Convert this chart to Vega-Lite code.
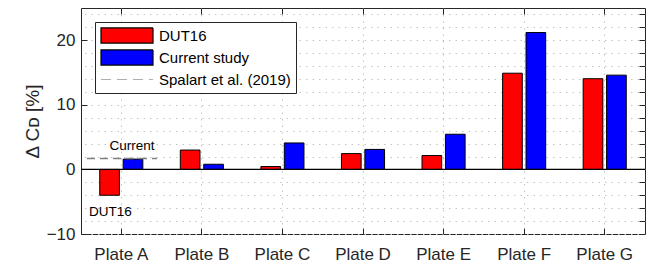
{
  "$schema": "https://vega.github.io/schema/vega-lite/v6.json",
  "width": 564,
  "height": 226,
  "autosize": {"type": "none"},
  "padding": {"left": 81, "top": 8, "right": 9, "bottom": 31},
  "config": {
    "font": "Liberation Sans",
    "view": {"stroke": "#262626", "strokeWidth": 1},
    "axis": {"domain": false, "labelFont": "Liberation Sans", "titleFont": "Liberation Sans", "labelColor": "#262626", "titleColor": "#262626", "tickColor": "#262626", "gridColor": "#c4c4c4", "gridDash": [1.5, 5], "gridWidth": 1}
  },
  "layer": [
    {
      "data": {"values": [
        {"plate": "Plate A", "series": "DUT16", "value": -4.0},
        {"plate": "Plate A", "series": "Current study", "value": 1.6},
        {"plate": "Plate B", "series": "DUT16", "value": 3.0},
        {"plate": "Plate B", "series": "Current study", "value": 0.8},
        {"plate": "Plate C", "series": "DUT16", "value": 0.45},
        {"plate": "Plate C", "series": "Current study", "value": 4.1},
        {"plate": "Plate D", "series": "DUT16", "value": 2.45},
        {"plate": "Plate D", "series": "Current study", "value": 3.1},
        {"plate": "Plate E", "series": "DUT16", "value": 2.15},
        {"plate": "Plate E", "series": "Current study", "value": 5.45},
        {"plate": "Plate F", "series": "DUT16", "value": 14.9},
        {"plate": "Plate F", "series": "Current study", "value": 21.2},
        {"plate": "Plate G", "series": "DUT16", "value": 14.05},
        {"plate": "Plate G", "series": "Current study", "value": 14.6}
      ]},
      "mark": {"type": "bar"},
      "encoding": {
        "x": {"field": "plate", "type": "nominal", "scale": {"paddingInner": 0, "paddingOuter": 0},
              "axis": {"orient": "bottom", "title": null, "labelAngle": 0, "labelFontSize": 17, "tickSize": -6, "labelPadding": 18, "grid": true}},
        "xOffset": {"field": "series", "type": "nominal", "sort": ["DUT16", "Current study"], "scale": {"paddingInner": 0.16, "paddingOuter": 0.8}},
        "y": {"field": "value", "type": "quantitative", "scale": {"domain": [-10, 25], "nice": false, "zero": false},
              "axis": {"orient": "left", "values": [-10, 0, 10, 20], "title": "Δ Cᴅ [%]", "titleFontSize": 19, "titleFontWeight": "normal", "titlePadding": 4, "labelFontSize": 17, "tickSize": -6, "labelPadding": 12, "grid": false}},
        "color": {"field": "series", "type": "nominal",
                  "scale": {"domain": ["DUT16", "Current study", "Spalart et al. (2019)"], "range": ["#ff0000", "#0000ff", "#b0b0b0"]}},
        "stroke": {"field": "series", "type": "nominal",
                   "scale": {"domain": ["DUT16", "Current study", "Spalart et al. (2019)"], "range": ["#000000", "#000000", "#b0b0b0"]}}
      }
    },
    {
      "data": {"values": []},
      "mark": {"type": "point", "filled": true, "opacity": 1},
      "encoding": {
        "color": {"field": "series", "type": "nominal",
                  "scale": {"domain": ["DUT16", "Current study", "Spalart et al. (2019)"], "range": ["#ff0000", "#0000ff", "#b0b0b0"]},
                  "legend": {"orient": "top-left", "offset": 14, "title": null, "fillColor": "white", "strokeColor": "#262626", "padding": 5,
                             "symbolSize": 2704, "symbolOffset": 0, "labelOffset": 5, "rowPadding": 5, "clipHeight": 17, "symbolOpacity": 1,
                             "labelFontSize": 15, "labelFont": "Liberation Sans", "labelColor": "#000000", "symbolStrokeWidth": 1.2}},
        "stroke": {"field": "series", "type": "nominal",
                   "scale": {"domain": ["DUT16", "Current study", "Spalart et al. (2019)"], "range": ["#000000", "#000000", "#b0b0b0"]}},
        "shape": {"field": "series", "type": "nominal",
                  "scale": {"domain": ["DUT16", "Current study", "Spalart et al. (2019)"], "range": ["M-1,-0.29H1V0.29H-1Z", "M-1,-0.29H1V0.29H-1Z", "M-1,0H1"]}},
        "strokeDash": {"field": "series", "type": "nominal",
                       "scale": {"domain": ["DUT16", "Current study", "Spalart et al. (2019)"], "range": [[1, 0], [1, 0], [10, 6]]}}
      }
    },
    {
      "data": {"values": [{"plate": "Plate A", "series": "Spalart et al. (2019)", "value": 1.7}]},
      "mark": {"type": "rule", "color": "#808080", "strokeWidth": 1.5, "strokeDash": [8, 5]},
      "encoding": {
        "x": {"field": "plate", "type": "nominal", "bandPosition": 0.074,
              "axis": {"orient": "top", "title": null, "labels": false, "tickSize": -6, "grid": false}},
        "x2": {"datum": "Plate A", "bandPosition": 0.943},
        "y": {"field": "value", "type": "quantitative",
              "axis": {"orient": "right", "title": null, "labels": false, "values": [-10, -8, -6, -4, -2, 0, 2, 4, 6, 8, 10, 12, 14, 16, 18, 20, 22, 24], "tickSize": -6, "grid": true,
                       "encode": {"ticks": {"update": {"strokeOpacity": {"signal": "datum.value % 10 === 0 ? 1 : 0"}}}}}}
      }
    },
    {
      "data": {"values": [{}]},
      "mark": {"type": "rule", "color": "#000000", "strokeWidth": 1.2},
      "encoding": {"y": {"datum": 0, "type": "quantitative", "axis": null}}
    },
    {
      "data": {"values": [{}]},
      "mark": {"type": "text", "text": "Current", "fontSize": 13.5, "color": "#000000", "baseline": "middle", "align": "center"},
      "encoding": {
        "x": {"datum": "Plate A", "type": "nominal", "bandPosition": 0.633, "axis": null},
        "y": {"datum": 3.6, "type": "quantitative", "axis": null}
      }
    },
    {
      "data": {"values": [{}]},
      "mark": {"type": "text", "text": "DUT16", "fontSize": 13.5, "color": "#000000", "baseline": "middle", "align": "center"},
      "encoding": {
        "x": {"datum": "Plate A", "type": "nominal", "bandPosition": 0.366, "axis": null},
        "y": {"datum": -6.55, "type": "quantitative", "axis": null}
      }
    }
  ],
  "resolve": {"axis": {"x": "independent", "y": "independent"}}
}
